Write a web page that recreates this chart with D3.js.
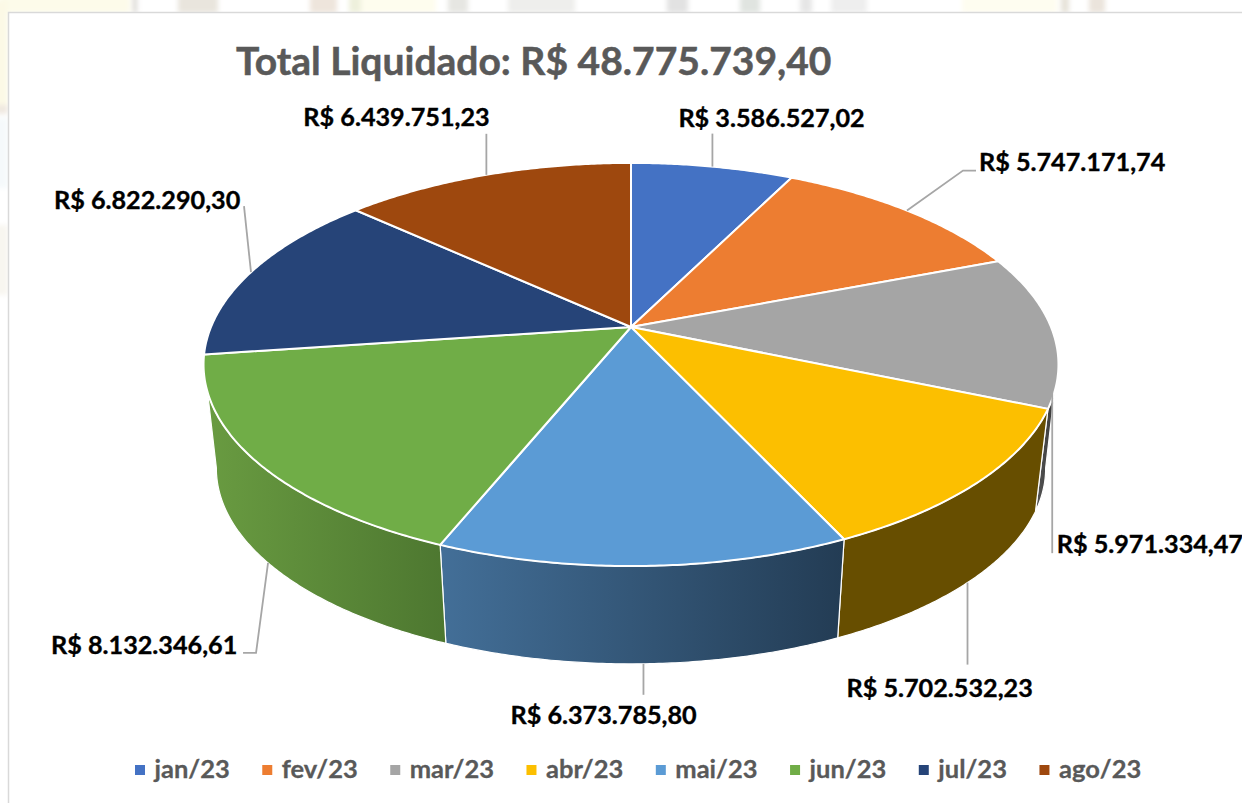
<!DOCTYPE html>
<html>
<head>
<meta charset="utf-8">
<script src="https://cdn.jsdelivr.net/npm/d3@7"></script>
<style>
body { margin: 0; background: #fff; overflow: hidden; }
text { font-family: Lato, "Open Sans", sans-serif; font-weight: 700; }
</style>
</head>
<body>
<script>
"use strict";
const months = ["jan/23", "fev/23", "mar/23", "abr/23", "mai/23", "jun/23", "jul/23", "ago/23"];
const values = [3586527.02, 5747171.74, 5971334.47, 5702532.23, 6373785.80, 8132346.61, 6822290.30, 6439751.23];
const colors = ["#4472c4", "#ed7d31", "#a5a5a5", "#fcbf00", "#5b9bd5", "#70ad47", "#264478", "#9e480e"];
const titleText = "Total Liquidado: R$ 48.775.739,40";

const w = 1242, h = 803;
const cx = 631, cy = 327, R = 420, B = 194.6, k = 0.186;
const rimDrop = 105, rimScale = 0.97;
const rad = Math.PI / 180;

// pie circle -> screen, with perspective (near edge bigger)
function project(a, lower) {
	const x = Math.sin(a), v = -Math.cos(a), d = 1 - k * v;
	const s = lower ? rimScale : 1;
	return [cx + s * R * x / d, cy + (lower ? rimDrop : 0) + s * B * v / d];
}
function arcPoints(a0, a1, lower) {
	const n = Math.max(2, Math.ceil(Math.abs(a1 - a0) / (0.5 * rad)));
	return d3.range(n + 1).map(i => project(a0 + (a1 - a0) * i / n, lower));
}

const fmt = d3.formatLocale({decimal: ",", thousands: ".", grouping: [3], currency: ["R$ ", ""]}).format("$,.2f");
const slices = d3.pie().sort(null)(values);
const line = d3.line();

const svg = d3.select("body").append("svg").attr("width", w).attr("height", h);
const defs = svg.append("defs");
defs.append("filter").attr("id", "soft").attr("x", "-20%").attr("width", "140%")
	.append("feGaussianBlur").attr("stdDeviation", 2.5);

// faint photo behind the chart, only its strips show around the white box
const back = svg.append("g").attr("filter", "url(#soft)");
[[0, 130, "#fdfbea"], [133, 4, "#d8d6d0"], [178, 40, "#e9e5dd"], [310, 27, "#eee5dc"], [349, 12, "#eef0dc"],
	[361, 75, "#fefdee"], [448, 20, "#e6e6e2"], [508, 67, "#eeeeec"], [667, 21, "#e2e2e2"], [740, 20, "#e0e4e0"],
	[800, 12, "#e6e6e6"], [831, 36, "#eeeeee"], [962, 95, "#fefdf0"], [1061, 8, "#e6e2d8"], [1089, 16, "#ebe4dc"]].forEach(p => {
	back.append("rect").attr("x", p[0]).attr("y", -5).attr("width", p[1]).attr("height", 18).attr("fill", p[2]);
});
back.append("rect").attr("x", -5).attr("y", 0).attr("width", 13).attr("height", 105).attr("fill", "#fcf9e6");
back.append("rect").attr("x", -5).attr("y", 105).attr("width", 13).attr("height", 9).attr("fill", "#efe8e0");
back.append("rect").attr("x", -5).attr("y", 118).attr("width", 13).attr("height", 70).attr("fill", "#f5f9fb");
back.append("rect").attr("x", -5).attr("y", 225).attr("width", 13).attr("height", 70).attr("fill", "#f8f6f0");

svg.append("rect").attr("x", 8.5).attr("y", 12.5).attr("width", w).attr("height", h)
	.attr("fill", "#fff").attr("stroke", "#d9d9d9").attr("stroke-width", 1.5);

// side walls: only the front part of the pie shows them
const walls = [
	{i: 2, topFrom: 108.3, botFrom: 100.6, c0: "#555555", c1: "#3a3a3a"},
	{i: 3, c0: "#674e00", c1: "#674e00"},
	{i: 4, c0: "#233c54", c1: "#436f98", flip: true},
	{i: 5, c0: "#4d7730", c1: "#699b41", flip: true, topTo: 251.7, botTo: 259.4}
];
walls.forEach(d => {
	const s = slices[d.i];
	const top0 = d.topFrom ? d.topFrom * rad : s.startAngle;
	const bot0 = d.botFrom ? d.botFrom * rad : s.startAngle;
	const top1 = d.topTo ? d.topTo * rad : s.endAngle;
	const bot1 = d.botTo ? d.botTo * rad : s.endAngle;
	const pts = arcPoints(top0, top1, false).concat(arcPoints(bot1, bot0, true));
	const xs = d3.extent(pts, p => p[0]);
	const id = "wall" + d.i;
	const g = defs.append("linearGradient").attr("id", id).attr("gradientUnits", "userSpaceOnUse")
		.attr("x1", d.flip ? xs[1] : xs[0]).attr("x2", d.flip ? xs[0] : xs[1]).attr("y1", 0).attr("y2", 0);
	g.append("stop").attr("offset", 0).attr("stop-color", d.c0);
	g.append("stop").attr("offset", 1).attr("stop-color", d.c1);
	svg.append("path").attr("d", line(pts) + "Z").attr("fill", "url(#" + id + ")")
		.attr("stroke", "#fff").attr("stroke-width", 1.2).attr("stroke-linejoin", "round");
});

// top face
svg.append("g").selectAll("path").data(slices).enter().append("path")
	.attr("d", d => line([[cx, cy]].concat(arcPoints(d.startAngle, d.endAngle, false))) + "Z")
	.attr("fill", (d, i) => colors[i])
	.attr("stroke", "#fff").attr("stroke-width", 2).attr("stroke-linejoin", "round");

// leader lines: offsets from the slice's mid angle on the rim, then label start
const labels = [
	{lower: false, path: [[0, 0], [0, -33]], text: [-34, -40]},
	{lower: false, path: [[0, 0], [56, -40], [69, -40]], text: [72, -40]},
	{lower: false, path: [[0, 62], [0, 223]], text: [4.5, 223]},
	{lower: true, path: [[0, 0], [0, 82]], text: [-121, 114]},
	{lower: true, path: [[0, 0], [0, 31]], text: [-133, 60]},
	{lower: true, path: [[0, 0], [-12, 90], [-25, 90]], text: [-217, 91]},
	{lower: false, path: [[0, 0], [-7, -66]], text: [-197, -63]},
	{lower: false, path: [[0, 0], [0, -41]], text: [-183, -49]}
];
slices.forEach((s, i) => {
	const a = project((s.startAngle + s.endAngle) / 2, labels[i].lower);
	svg.append("path").attr("d", line(labels[i].path.map(p => [a[0] + p[0], a[1] + p[1]])))
		.attr("fill", "none").attr("stroke", "#a6a6a6").attr("stroke-width", 1.8);
	svg.append("text").attr("x", a[0] + labels[i].text[0]).attr("y", a[1] + labels[i].text[1])
		.attr("font-size", 25.2).attr("fill", "#000").attr("stroke", "#000").attr("stroke-width", 0.35)
		.text(fmt(values[i]));
});

svg.append("text").attr("x", 236).attr("y", 75).attr("font-size", 39).attr("fill", "#595959")
	.attr("stroke", "#595959").attr("stroke-width", 0.5).text(titleText);

// legend, flowed by measured text width
let lx = 135;
months.forEach((m, i) => {
	svg.append("rect").attr("x", lx).attr("y", 765).attr("width", 10).attr("height", 10).attr("fill", colors[i]);
	const t = svg.append("text").attr("x", lx + 19.5).attr("y", 778).attr("font-size", 25.5).attr("fill", "#595959")
		.attr("stroke", "#595959").attr("stroke-width", 0.3).text(m);
	lx += 19.5 + t.node().getComputedTextLength() + 32.5;
});
</script>
</body>
</html>
